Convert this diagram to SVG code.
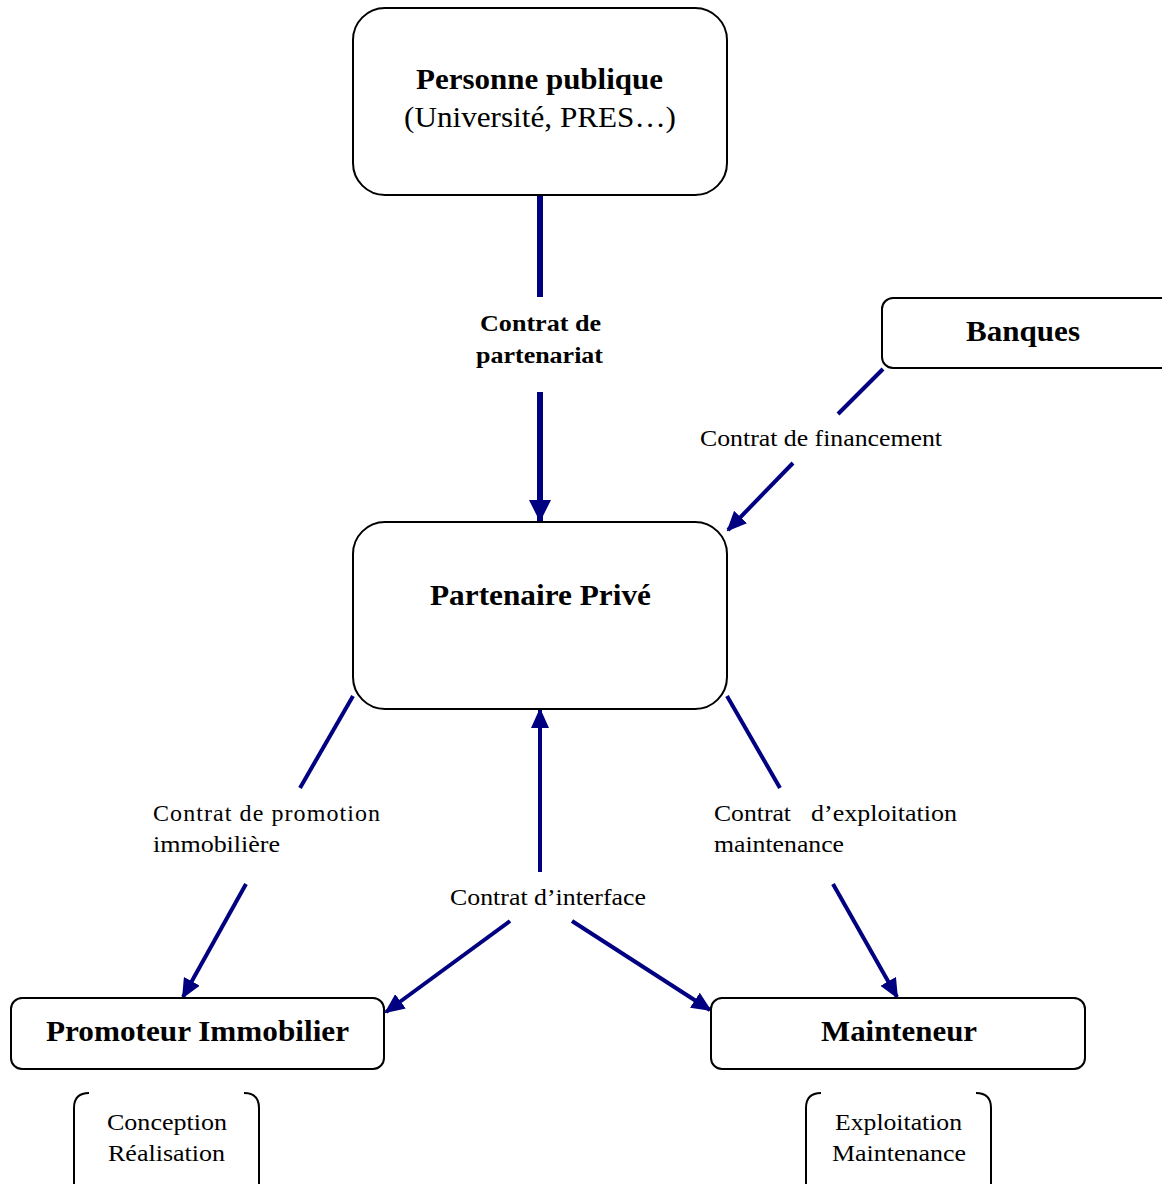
<svg xmlns="http://www.w3.org/2000/svg" width="1162" height="1184" viewBox="0 0 1162 1184">
<style>
.box{fill:#fff;stroke:#000;stroke-width:2}
.br{fill:none;stroke:#000;stroke-width:2}
.ln{stroke:#000080;stroke-width:4;fill:none}
.thick{stroke-width:6}
.t{font-family:"Liberation Serif","Times New Roman",serif;fill:#000}
.b{font-weight:bold}
.lbl{font-size:24px}
.ttl{font-size:30px;font-weight:bold}
</style>
<defs>
<marker id="ah" markerUnits="userSpaceOnUse" viewBox="0 0 20 18" refX="18" refY="9" markerWidth="20" markerHeight="18" orient="auto">
<path d="M0,0 L20,9 L0,18 Z" fill="#000080"/>
</marker>
<marker id="ahb" markerUnits="userSpaceOnUse" viewBox="0 0 22 22" refX="21" refY="11" markerWidth="22" markerHeight="22" orient="auto">
<path d="M0,0 L22,11 L0,22 Z" fill="#000080"/>
</marker>
</defs>
<g id="connectors">
<line class="ln thick" x1="540" y1="195" x2="540" y2="297"/>
<line class="ln thick" x1="540" y1="392" x2="540" y2="521" marker-end="url(#ahb)"/>
<line class="ln" x1="883" y1="369" x2="838" y2="414"/>
<line class="ln" x1="793" y1="463" x2="728" y2="530" marker-end="url(#ah)"/>
<line class="ln" x1="353" y1="696" x2="300" y2="788"/>
<line class="ln" x1="246" y1="884" x2="183" y2="997" marker-end="url(#ah)"/>
<line class="ln" x1="727" y1="696" x2="780" y2="788"/>
<line class="ln" x1="833" y1="884" x2="897" y2="997" marker-end="url(#ah)"/>
<line class="ln" x1="540" y1="872" x2="540" y2="710" marker-end="url(#ah)"/>
<line class="ln" x1="510" y1="921" x2="386" y2="1012" marker-end="url(#ah)"/>
<line class="ln" x1="572" y1="921" x2="710" y2="1010" marker-end="url(#ah)"/>
<text class="t b lbl" x="480" y="331" textLength="121" lengthAdjust="spacingAndGlyphs">Contrat de</text>
<text class="t b lbl" x="476" y="363" textLength="127" lengthAdjust="spacingAndGlyphs">partenariat</text>
<text class="t lbl" x="700" y="446" textLength="242" lengthAdjust="spacingAndGlyphs">Contrat de financement</text>
<text class="t lbl" x="153" y="821" textLength="227" lengthAdjust="spacing">Contrat de promotion</text>
<text class="t lbl" x="153" y="852" textLength="127" lengthAdjust="spacingAndGlyphs">immobilière</text>
<text class="t lbl" x="714" y="821" textLength="77" lengthAdjust="spacingAndGlyphs">Contrat</text>
<text class="t lbl" x="811" y="821" textLength="146" lengthAdjust="spacingAndGlyphs">d’exploitation</text>
<text class="t lbl" x="714" y="852" textLength="130" lengthAdjust="spacingAndGlyphs">maintenance</text>
<text class="t lbl" x="450" y="905" textLength="196" lengthAdjust="spacingAndGlyphs">Contrat d’interface</text>
</g>
<g id="personne-publique">
<rect class="box" x="353" y="8" width="374" height="187" rx="32"/>
<text class="t ttl" x="416" y="89" textLength="247" lengthAdjust="spacingAndGlyphs">Personne publique</text>
<text class="t" x="404" y="127" font-size="29" textLength="272" lengthAdjust="spacingAndGlyphs">(Université, PRES…)</text>
</g>
<g id="banques">
<rect class="box" x="882" y="298" width="290" height="70" rx="11"/>
<text class="t ttl" x="966" y="341" font-size="29" textLength="114" lengthAdjust="spacingAndGlyphs">Banques</text>
</g>
<g id="partenaire-prive">
<rect class="box" x="353" y="522" width="374" height="187" rx="32"/>
<text class="t ttl" x="430" y="605" textLength="221" lengthAdjust="spacingAndGlyphs">Partenaire Privé</text>
</g>
<g id="promoteur">
<rect class="box" x="11" y="998" width="373" height="71" rx="11"/>
<text class="t ttl" x="46" y="1041" textLength="303" lengthAdjust="spacingAndGlyphs">Promoteur Immobilier</text>
</g>
<g id="mainteneur">
<rect class="box" x="711" y="998" width="374" height="71" rx="11"/>
<text class="t ttl" x="821" y="1041" textLength="156" lengthAdjust="spacingAndGlyphs">Mainteneur</text>
</g>
<g id="conception">
<path class="br" d="M89,1093 Q74,1093 74,1108 L74,1184"/>
<path class="br" d="M244,1093 Q259,1093 259,1108 L259,1184"/>
<text class="t lbl" x="107" y="1130" textLength="120" lengthAdjust="spacingAndGlyphs">Conception</text>
<text class="t lbl" x="108" y="1161" textLength="117" lengthAdjust="spacingAndGlyphs">Réalisation</text>
</g>
<g id="exploitation">
<path class="br" d="M821,1093 Q806,1093 806,1108 L806,1184"/>
<path class="br" d="M976,1093 Q991,1093 991,1108 L991,1184"/>
<text class="t lbl" x="835" y="1130" textLength="127" lengthAdjust="spacingAndGlyphs">Exploitation</text>
<text class="t lbl" x="832" y="1161" textLength="134" lengthAdjust="spacingAndGlyphs">Maintenance</text>
</g>
</svg>
